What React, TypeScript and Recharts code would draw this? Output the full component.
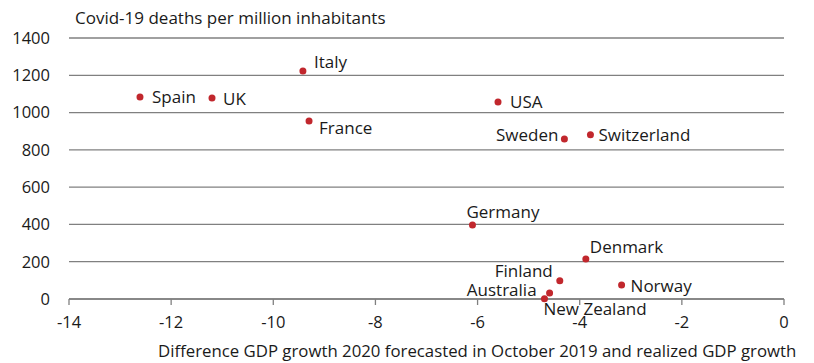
import { CartesianGrid, Scatter, ScatterChart, XAxis, YAxis } from "recharts";

const COUNTRIES = [
  "Italy",
  "Spain",
  "UK",
  "France",
  "USA",
  "Sweden",
  "Switzerland",
  "Germany",
  "Denmark",
  "Finland",
  "Norway",
  "Australia",
  "New Zealand",
];
const GDP_GAP = [-9.42, -12.61, -11.2, -9.3, -5.6, -4.3, -3.79, -6.1, -3.88, -4.39, -3.18, -4.59, -4.69];
const DEATHS = [1223, 1084, 1078, 955, 1057, 858, 881, 397, 215, 98, 75, 32, 2];

const X_TICKS = [-14, -12, -10, -8, -6, -4, -2, 0];
const Y_TICKS = [0, 200, 400, 600, 800, 1000, 1200, 1400];

const Y_TITLE = "Covid-19 deaths per million inhabitants";
const X_TITLE = "Difference GDP growth 2020 forecasted in October 2019 and realized GDP growth";

// label placement relative to the dot (styling, not data)
const LABEL_POS: Record<string, { dx: number; dy: number; anchor: "start" | "end" }> = {
  Italy: { dx: 11, dy: -9, anchor: "start" },
  Spain: { dx: 12, dy: 0, anchor: "start" },
  UK: { dx: 11, dy: 0, anchor: "start" },
  France: { dx: 10, dy: 7, anchor: "start" },
  USA: { dx: 12, dy: 0, anchor: "start" },
  Sweden: { dx: -6, dy: -5, anchor: "end" },
  Switzerland: { dx: 8, dy: 0, anchor: "start" },
  Germany: { dx: -6, dy: -13, anchor: "start" },
  Denmark: { dx: 4, dy: -12, anchor: "start" },
  Finland: { dx: -7, dy: -10, anchor: "end" },
  Norway: { dx: 9, dy: 0, anchor: "start" },
  Australia: { dx: -13, dy: -4, anchor: "end" },
  "New Zealand": { dx: -1, dy: 10, anchor: "start" },
};

const FONT = "'Open Sans', 'Noto Sans', sans-serif";
const FS = 17;
const TICK_FS = 16.5;
const DOT = "#c1272d";
const GRID = "#808080";
const TEXT = "#1a1a1a";

const data = COUNTRIES.map((name, i) => ({ name, x: GDP_GAP[i], y: DEATHS[i] }));

function Dot(props: any) {
  const { cx, cy, payload } = props;
  const pos = LABEL_POS[payload.name] ?? { dx: 8, dy: 0, anchor: "start" };
  return (
    <g>
      <circle cx={cx} cy={cy} r={3.5} fill={DOT} />
      <text
        x={cx + pos.dx}
        y={cy + pos.dy}
        textAnchor={pos.anchor}
        dominantBaseline="central"
        fontSize={FS}
        fontFamily={FONT}
        fill={TEXT}
      >
        {payload.name}
      </text>
    </g>
  );
}

export default function App() {
  return (
    <div style={{ position: "absolute", left: 0, top: 0, width: 814, height: 363, background: "#fff", fontFamily: FONT }}>
      <div style={{ position: "absolute", left: 75, top: 7, fontSize: FS, lineHeight: "22px", color: TEXT, whiteSpace: "nowrap" }}>
        {Y_TITLE}
      </div>
      <div style={{ position: "absolute", left: 158, top: 340, fontSize: 16.8, lineHeight: "22px", color: TEXT, whiteSpace: "nowrap" }}>
        {X_TITLE}
      </div>
      <ScatterChart width={814} height={363} margin={{ top: 38, right: 30, bottom: 0, left: 0 }}>
        <CartesianGrid horizontal vertical={false} stroke={GRID} strokeWidth={1.3} />
        <XAxis
          type="number"
          dataKey="x"
          domain={[-14, 0]}
          ticks={X_TICKS}
          axisLine={{ stroke: GRID, strokeWidth: 1.3 }}
          tickLine={{ stroke: GRID, strokeWidth: 1.3 }}
          tickSize={6}
          tickMargin={11}
          tick={{ fill: TEXT, fontSize: TICK_FS, fontFamily: FONT }}
          height={64}
        />
        <YAxis
          type="number"
          dataKey="y"
          domain={[0, 1400]}
          ticks={Y_TICKS}
          axisLine={false}
          tickLine={false}
          tickSize={0}
          tickMargin={19}
          tick={{ fill: TEXT, fontSize: TICK_FS, fontFamily: FONT }}
          width={69}
        />
        <Scatter data={data} shape={Dot} isAnimationActive={false} />
      </ScatterChart>
    </div>
  );
}
